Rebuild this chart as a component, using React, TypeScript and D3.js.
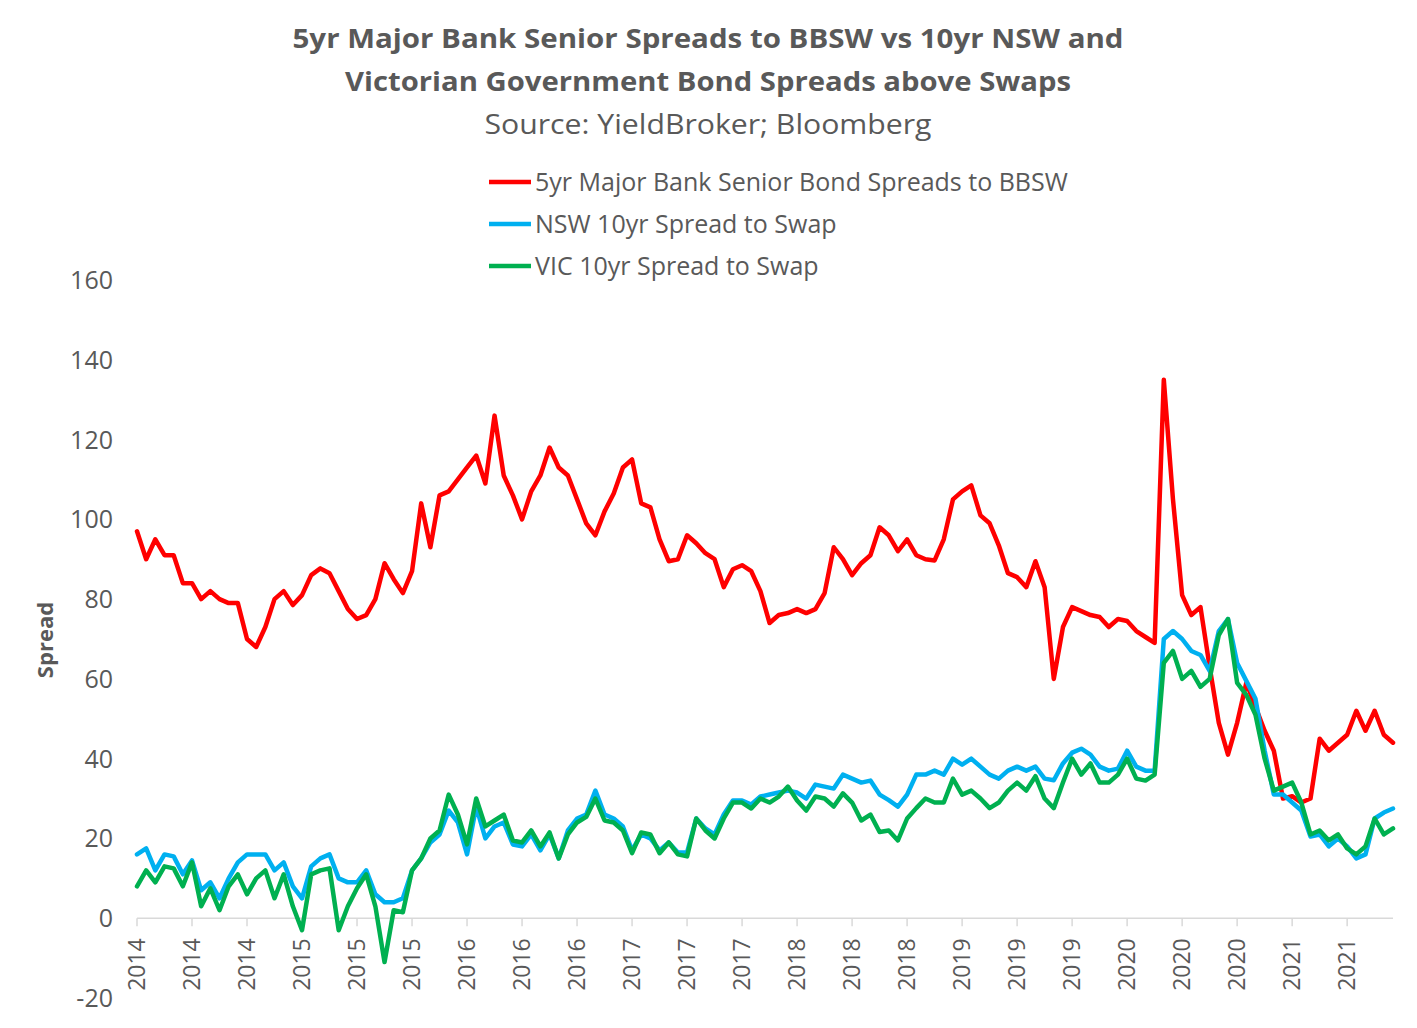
import React from 'react';
import * as d3 from 'd3';

const W = 1417;
const H = 1028;

const xTickLabels = [
  '2014', '2014', '2014', '2015', '2015', '2015', '2016', '2016', '2016', '2017', '2017', '2017',
  '2018', '2018', '2018', '2019', '2019', '2019', '2020', '2020', '2020', '2021', '2021',
];
const yTicks = [-20, 0, 20, 40, 60, 80, 100, 120, 140, 160];

// 5yr Major Bank Senior Bond Spreads to BBSW
const bankSpread = [
  97, 90, 95, 91, 91, 84, 84, 80, 82, 80, 79, 79, 70, 68, 73, 80, 82, 78.5, 81, 86,
  87.7, 86.5, 82, 77.5, 75, 76, 80, 89, 85, 81.5, 87, 104, 93, 106, 107, 110, 113, 116, 109, 126,
  111, 106, 100, 107, 111, 118, 113, 111, 105, 99, 96, 102, 106.5, 113, 115, 104, 103, 95, 89.5, 90,
  96, 94, 91.5, 90, 83, 87.5, 88.5, 87, 82, 74, 76, 76.5, 77.5, 76.5, 77.5, 81.5, 93, 90, 86, 89,
  91, 98, 96, 92, 95, 91, 90, 89.7, 95, 105, 107, 108.5, 101, 99, 93.5, 86.5, 85.5, 83, 89.5, 83,
  60, 73, 78, 77, 76, 75.5, 73, 75, 74.5, 72, 70.5, 69, 135, 105, 81, 76, 78, 63, 49, 41,
  49, 59, 53, 47, 42, 30, 30.6, 29, 30, 45, 42, 44, 46, 52, 47, 52, 46, 44,
];

// NSW 10yr Spread to Swap
const nswSpread = [
  16, 17.5, 12, 16, 15.5, 11, 14.5, 7, 9, 5, 10, 14, 16, 16, 16, 12, 14, 8, 5, 13,
  15, 16, 10, 9, 9, 12, 6, 4, 4, 5, 12, 15, 19, 21, 27, 24, 16, 28, 20, 23,
  24, 18.5, 18, 21, 17, 21, 15, 22, 25, 26, 32, 26, 25, 23, 17, 21, 20, 17, 19, 16.5,
  16.5, 25, 22.5, 21, 26, 29.5, 29.5, 28.5, 30.5, 31, 31.5, 32, 31.5, 30, 33.5, 33, 32.5, 36, 35, 34,
  34.5, 31, 29.6, 28, 31, 36, 36, 37, 36, 40, 38.5, 40, 38, 36, 35, 37, 38, 37, 38, 35,
  34.6, 38.8, 41.5, 42.5, 41, 38, 37, 37.5, 42, 38, 37, 37, 70, 72, 70, 67, 66, 62, 72, 75,
  64, 59.5, 55, 42, 31, 31, 29, 27, 20.5, 21, 18, 20, 18, 15, 16, 25, 26.5, 27.5,
];

// VIC 10yr Spread to Swap
const vicSpread = [
  8, 12, 9, 13, 12.5, 8, 14, 3, 7.5, 2, 8, 11, 6, 10, 12, 5, 11, 3, -3, 11,
  12, 12.5, -3, 3, 7.5, 11, 3, -11, 2, 1.5, 12, 15, 20, 22, 31, 26, 18.5, 30, 23, 24.5,
  26, 19.5, 19, 22, 18, 21.5, 15, 21, 24, 25.4, 30, 24.5, 24, 22, 16.3, 21.5, 21, 16.3, 19, 16,
  15.5, 25, 22, 20, 25, 29, 29, 27.5, 30, 29, 30.5, 33, 29.5, 27, 30.5, 30, 28, 31.3, 29, 24.5,
  26, 21.6, 22, 19.5, 25, 27.6, 30, 29, 29, 35, 31, 32, 30, 27.6, 29, 32, 34, 32, 35.6, 30,
  27.6, 34, 40, 36, 38.8, 34, 34, 36, 40, 35, 34.5, 36, 64, 67, 60, 62, 58, 60, 71, 75,
  59, 56, 51, 40, 32, 33, 34, 29, 21, 22, 19.5, 21, 17.5, 16, 18, 25, 21, 22.5,
];

const series = [
  { name: '5yr Major Bank Senior Bond Spreads to BBSW', color: '#ff0000', values: bankSpread },
  { name: 'NSW 10yr Spread to Swap', color: '#00b0f0', values: nswSpread },
  { name: 'VIC 10yr Spread to Swap', color: '#00b050', values: vicSpread },
];

const TICK_EVERY = 6;
const TEXT = '#595959';
const FONT = '"Open Sans", Lato, sans-serif';

export default function App() {
  const n = bankSpread.length;
  const x = d3.scaleLinear().domain([0, n - 1]).range([137, 1393]);
  const y = d3.scaleLinear().domain([-20, 160]).range([998, 280]);

  const line = d3.line<number>()
    .x((_, i) => x(i))
    .y(d => y(d));

  return (
    <div style={{ position: 'absolute', left: 0, top: 0 }}>
      <svg width={W} height={H} style={{ display: 'block', background: '#fff' }} fontFamily={FONT}>
        {/* Titles */}
        <text x={708} y={48} textAnchor="middle" fontSize={27} fontWeight="bold" fill={TEXT}
          textLength={831} lengthAdjust="spacingAndGlyphs">
          5yr Major Bank Senior Spreads to BBSW vs 10yr NSW and
        </text>
        <text x={708} y={91} textAnchor="middle" fontSize={27} fontWeight="bold" fill={TEXT}
          textLength={726} lengthAdjust="spacingAndGlyphs">
          Victorian Government Bond Spreads above Swaps
        </text>
        <text x={708} y={134} textAnchor="middle" fontSize={28} fill={TEXT}
          textLength={447} lengthAdjust="spacingAndGlyphs">
          Source: YieldBroker;  Bloomberg
        </text>

        {/* Legend */}
        {series.map((s, i) => (
          <g key={s.name} transform={`translate(489,${182 + i * 42})`}>
            <line x1={0} x2={42} y1={0} y2={0} stroke={s.color} strokeWidth={4.5} />
            <text x={46} y={9} fontSize={25} fill={TEXT}>{s.name}</text>
          </g>
        ))}

        {/* Y axis labels */}
        {yTicks.map(t => (
          <text key={t} x={113} y={y(t) + 9} textAnchor="end" fontSize={25} fill={TEXT}>{t}</text>
        ))}
        <text transform={`translate(53,640) rotate(-90)`} textAnchor="middle" fontSize={22}
          fontWeight="bold" fill={TEXT}>Spread</text>

        {/* X axis */}
        <line x1={x(0)} x2={x(n - 1)} y1={y(0)} y2={y(0)} stroke="#d9d9d9" strokeWidth={1.5} />
        {xTickLabels.map((lab, k) => {
          const px = x(k * TICK_EVERY);
          return (
            <g key={k}>
              <line x1={px} x2={px} y1={y(0)} y2={y(0) + 8} stroke="#d9d9d9" strokeWidth={1.5} />
              <text transform={`translate(${px + 8},${y(0) + 20}) rotate(-90)`} textAnchor="end"
                fontSize={23} fill={TEXT}>{lab}</text>
            </g>
          );
        })}

        {/* Series */}
        {series.map(s => (
          <path key={s.name} d={line(s.values) || ''} fill="none" stroke={s.color}
            strokeWidth={4.5} strokeLinejoin="round" strokeLinecap="round" />
        ))}
      </svg>
    </div>
  );
}
